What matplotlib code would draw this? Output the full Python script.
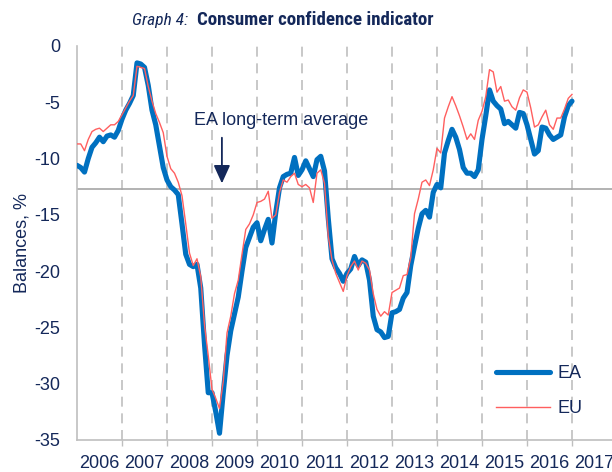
import matplotlib
matplotlib.use("Agg")
import matplotlib.pyplot as plt
from matplotlib import font_manager
import numpy as np

# ---- data (monthly, Jan 2006 .. Jan 2017) ----
start_year = 2006
ea = [
    -10.6, -10.8, -11.2, -10.0, -9.0, -8.6, -8.1, -8.5, -8.0, -7.9, -8.1, -7.5,
    -6.5, -5.7, -5.1, -4.4, -1.5, -1.6, -1.9, -3.5, -5.7, -7.0, -8.9, -10.8,
    -11.9, -12.5, -12.8, -13.2, -15.8, -18.5, -19.4, -19.6, -19.4, -21.5, -26.5, -30.8,
    -30.8, -32.5, -34.4, -30.8, -27.5, -25.3, -23.8, -22.3, -20.0, -17.9, -17.0, -16.1,
    -15.7, -17.3, -16.3, -15.4, -17.5, -14.8, -12.6, -11.6, -11.4, -11.3, -9.9, -11.5,
    -11.0, -10.2, -10.9, -11.6, -10.1, -9.8, -11.1, -15.3, -18.9, -19.7, -20.2, -20.9,
    -20.2, -19.8, -18.7, -19.5, -19.0, -19.2, -20.8, -24.0, -25.2, -25.4, -25.9, -25.8,
    -23.7, -23.6, -23.4, -22.4, -21.9, -19.5, -17.8, -16.2, -14.9, -14.6, -15.2, -13.0,
    -12.3, -12.6, -9.5, -8.4, -7.4, -8.1, -9.2, -10.8, -11.3, -11.3, -11.6, -11.0,
    -8.3, -6.2, -3.9, -4.9, -5.3, -5.6, -6.9, -6.7, -7.0, -7.3, -5.9, -6.0,
    -7.0, -8.3, -9.6, -9.3, -7.2, -7.3, -7.9, -8.3, -8.1, -7.9, -6.3, -5.3,
    -4.9,
]
eu = [
    -8.7, -8.7, -9.3, -8.3, -7.6, -7.4, -7.3, -7.6, -7.3, -7.0, -7.0, -6.7,
    -6.1, -5.5, -4.9, -4.4, -1.8, -1.9, -2.0, -3.6, -4.9, -6.0, -6.8, -7.7,
    -9.8, -10.9, -11.3, -12.1, -13.3, -15.8, -18.4, -19.5, -18.9, -20.5, -24.8, -27.5,
    -30.5, -31.3, -32.2, -29.8, -25.5, -24.0, -22.0, -20.8, -18.5, -16.3, -15.8, -15.0,
    -13.9, -13.8, -13.6, -12.9, -15.3, -15.0, -13.0, -11.9, -12.1, -11.6, -11.3, -12.3,
    -12.5, -12.3, -12.6, -13.9, -11.3, -11.0, -12.2, -16.9, -19.0, -20.2, -21.0, -21.8,
    -20.4, -19.6, -19.1, -19.9, -19.1, -19.3, -19.9, -22.0, -23.4, -24.0, -23.6, -23.9,
    -21.9, -21.7, -21.5, -20.4, -20.3, -18.8, -14.9, -13.6, -12.1, -11.9, -12.4, -11.0,
    -9.1, -9.5, -6.4, -5.4, -4.5, -5.3, -6.2, -7.2, -8.3, -7.8, -8.3, -6.6,
    -5.8, -4.5, -2.1, -2.3, -4.1, -3.6, -4.9, -4.8, -5.4, -5.7, -4.6, -3.9,
    -4.1, -5.5, -7.2, -7.0, -6.3, -5.7, -7.0, -7.4, -6.4, -6.4, -5.6, -4.65,
    -4.3,
]
long_term_avg = -12.7
year_labels = [str(y) for y in range(2006, 2018)]
y_ticks = [0, -5, -10, -15, -20, -25, -30, -35]

NAVY = "#14285A"
BLUE = "#0070C0"
RED = "#FF5F5F"
GREY = "#BFBFBF"

available = {f.name for f in font_manager.fontManager.ttflist}
narrow = None
for cand in ["Liberation Sans Narrow", "Arial Narrow", "Roboto Condensed",
             "Open Sans Condensed", "DejaVu Sans Condensed"]:
    if cand in available:
        narrow = cand
        break
base_family = ["Liberation Sans", "DejaVu Sans"]
title_family = ([narrow] if narrow else []) + base_family
plt.rcParams["font.family"] = base_family

fig = plt.figure(figsize=(6.12, 4.72), dpi=100)
ax = fig.add_axes([77 / 612, 1 - 440 / 472, (612 - 77) / 612, (440 - 46) / 472])

t = start_year + np.arange(len(ea)) / 12.0
ax.plot(t, ea, color=BLUE, lw=3.7, solid_capstyle="round", solid_joinstyle="round", label="EA", zorder=3)
ax.plot(t, eu, color=RED, lw=1.0, label="EU", zorder=4)

ax.axhline(long_term_avg, color="#A6A6A6", lw=1.2, zorder=2)

ax.set_xlim(2006, 2006 + (612 - 77) / 45.0)
ax.set_ylim(-35, 0)

# year boundaries: dashed grid + small ticks
years = np.arange(2007, 2018)
ax.set_xticks(years)
ax.set_xticklabels([])
ax.tick_params(axis="x", which="major", length=4, color=GREY, width=1)
for y in years:
    ax.axvline(y, color=GREY, lw=1.2, ls=(0, (6, 4)), zorder=1)
ax.set_xticks(np.arange(2006, 2018) + 0.5, minor=True)
ax.set_xticklabels(year_labels, minor=True)
ax.tick_params(axis="x", which="minor", length=0, pad=11, labelsize=13, labelcolor=NAVY)

ax.set_yticks(y_ticks)
ax.set_yticklabels([str(v) for v in y_ticks])
ax.tick_params(axis="y", length=0, pad=12, labelsize=13, labelcolor=NAVY)

for s in ["top", "right"]:
    ax.spines[s].set_visible(False)
for s in ["left", "bottom"]:
    ax.spines[s].set_color(GREY)
    ax.spines[s].set_linewidth(1.2)

ax.set_ylabel("Balances, %", fontsize=13, color=NAVY, labelpad=3)

# annotation
ax.text(2010.53, -6.66, "EA long-term average", ha="center", va="center", fontsize=13, color=NAVY)
ax.annotate("", xy=(2009.22, -12.45), xytext=(2009.22, -7.9),
            arrowprops=dict(arrowstyle="-|>,head_length=1.1,head_width=0.5", color=NAVY, lw=1.3))

leg = ax.legend(loc="upper left", bbox_to_anchor=((489 - 77) / 535, (440 - 358) / 394),
                frameon=False, fontsize=13, handlelength=3.0, labelspacing=1.0,
                handletextpad=0.4, borderaxespad=0)
for txt in leg.get_texts():
    txt.set_color(NAVY)

if narrow:
    fs_sub, fs_title = 12.5, 13.6
else:
    fs_sub, fs_title = 10.5, 12
fig.text(188 / 612, 1 - 21 / 472, "Graph 4:", ha="right", va="center", fontsize=fs_sub,
         style="italic", color=NAVY, family=title_family)
fig.text(197 / 612, 1 - 20 / 472, "Consumer confidence indicator", ha="left", va="center",
         fontsize=fs_title, weight="bold", color=NAVY, family=title_family)

fig.savefig("out.png", dpi=100)
